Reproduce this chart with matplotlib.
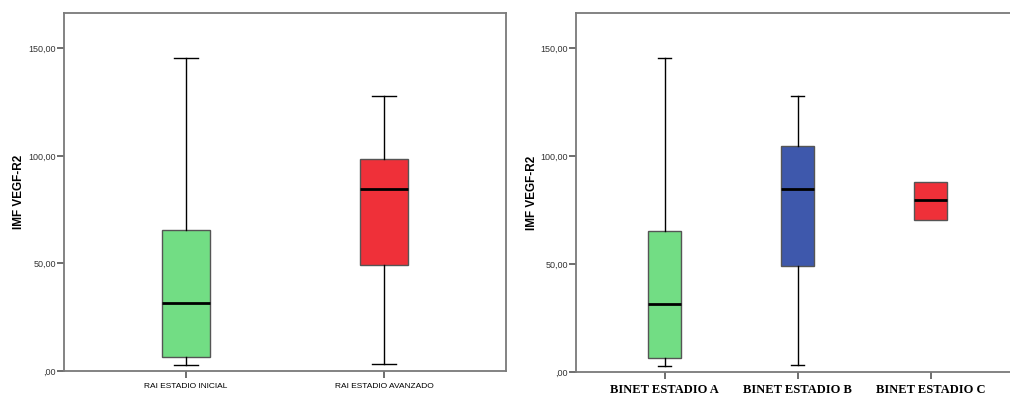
import matplotlib.pyplot as plt
from matplotlib.ticker import FuncFormatter

# datos (IMF VEGF-R2)
rai_labels = ['RAI ESTADIO INICIAL', 'RAI ESTADIO AVANZADO']
rai_whislo = [2.8, 3.3]
rai_q1 = [6.5, 49.3]
rai_med = [31.6, 84.8]
rai_q3 = [65.6, 98.7]
rai_whishi = [145.4, 128.0]
rai_colors = ['#72dd84', '#ef3039']

binet_labels = ['BINET ESTADIO A', 'BINET ESTADIO B', 'BINET ESTADIO C']
binet_whislo = [2.9, 3.3, 70.6]
binet_q1 = [6.4, 49.2, 70.6]
binet_med = [31.6, 85.0, 79.6]
binet_q3 = [65.6, 105.0, 88.3]
binet_whishi = [145.4, 128.0, 88.3]
binet_colors = ['#72dd84', '#3e58ac', '#ef3039']

yticks = [0, 50, 100, 150]


def fmt(v, pos):
    s = '%.2f' % v
    s = s.replace('.', ',')
    if s.startswith('0,'):
        s = s[1:]
    return s


def caja(ax, lab, lo, q1, med, q3, hi, cols, ancho, capw, sinbigotes=()):
    stats = []
    for i in range(len(lab)):
        stats.append(dict(label=lab[i], whislo=lo[i], q1=q1[i], med=med[i], q3=q3[i], whishi=hi[i]))
    pos = list(range(1, len(lab) + 1))
    bp = ax.bxp(stats, positions=pos, widths=ancho, patch_artist=True, showfliers=False,
                capwidths=capw,
                boxprops=dict(edgecolor='#555555', linewidth=1.0),
                medianprops=dict(color='black', linewidth=2.0),
                whiskerprops=dict(color='black', linewidth=1.0),
                capprops=dict(color='black', linewidth=1.0))
    for p, c in zip(bp['boxes'], cols):
        p.set_facecolor(c)
    for i in sinbigotes:
        bp['caps'][2 * i].set_visible(False)
        bp['caps'][2 * i + 1].set_visible(False)
        bp['whiskers'][2 * i].set_visible(False)
        bp['whiskers'][2 * i + 1].set_visible(False)
    return bp


def estilo(ax):
    ax.set_ylim(0, 166.5)
    ax.set_yticks(yticks)
    ax.yaxis.set_major_formatter(FuncFormatter(fmt))
    for s in ax.spines.values():
        s.set_color('#7a7a7a')
        s.set_linewidth(1.3)
    ax.tick_params(axis='y', length=5, width=1.2, color='#555555', labelsize=6.5,
                   labelcolor='#333333', pad=1)
    ax.tick_params(axis='x', length=5, width=1.2, color='#555555', pad=4)
    ax.set_ylabel('IMF VEGF-R2', fontsize=8.5, fontweight='bold', family='Liberation Sans')
    for t in ax.get_yticklabels():
        t.set_family('Liberation Sans')


fig = plt.figure(figsize=(10.1, 3.99), dpi=100)

ax1 = fig.add_axes([0.0634, 0.0702, 0.4376, 0.8972])
caja(ax1, rai_labels, rai_whislo, rai_q1, rai_med, rai_q3, rai_whishi, rai_colors, 0.247, 0.125)
ax1.set_xlim(0.384, 2.616)
estilo(ax1)
ax1.yaxis.set_label_coords(-0.088, 0.5)
for t in ax1.get_xticklabels():
    t.set_family('Liberation Sans')
    t.set_fontsize(6)

ax2 = fig.add_axes([0.5703, 0.0677, 0.4317, 0.9])
caja(ax2, binet_labels, binet_whislo, binet_q1, binet_med, binet_q3, binet_whishi, binet_colors,
     0.25, 0.1, sinbigotes=(2,))
ax2.set_xlim(0.335, 3.61)
estilo(ax2)
ax2.spines['right'].set_visible(False)
ax2.yaxis.set_label_coords(-0.088, 0.5)
ax2.tick_params(axis='x', pad=4)
for t in ax2.get_xticklabels():
    t.set_family('Liberation Serif')
    t.set_fontweight('bold')
    t.set_fontsize(9)

fig.savefig('out.png', dpi=100)
